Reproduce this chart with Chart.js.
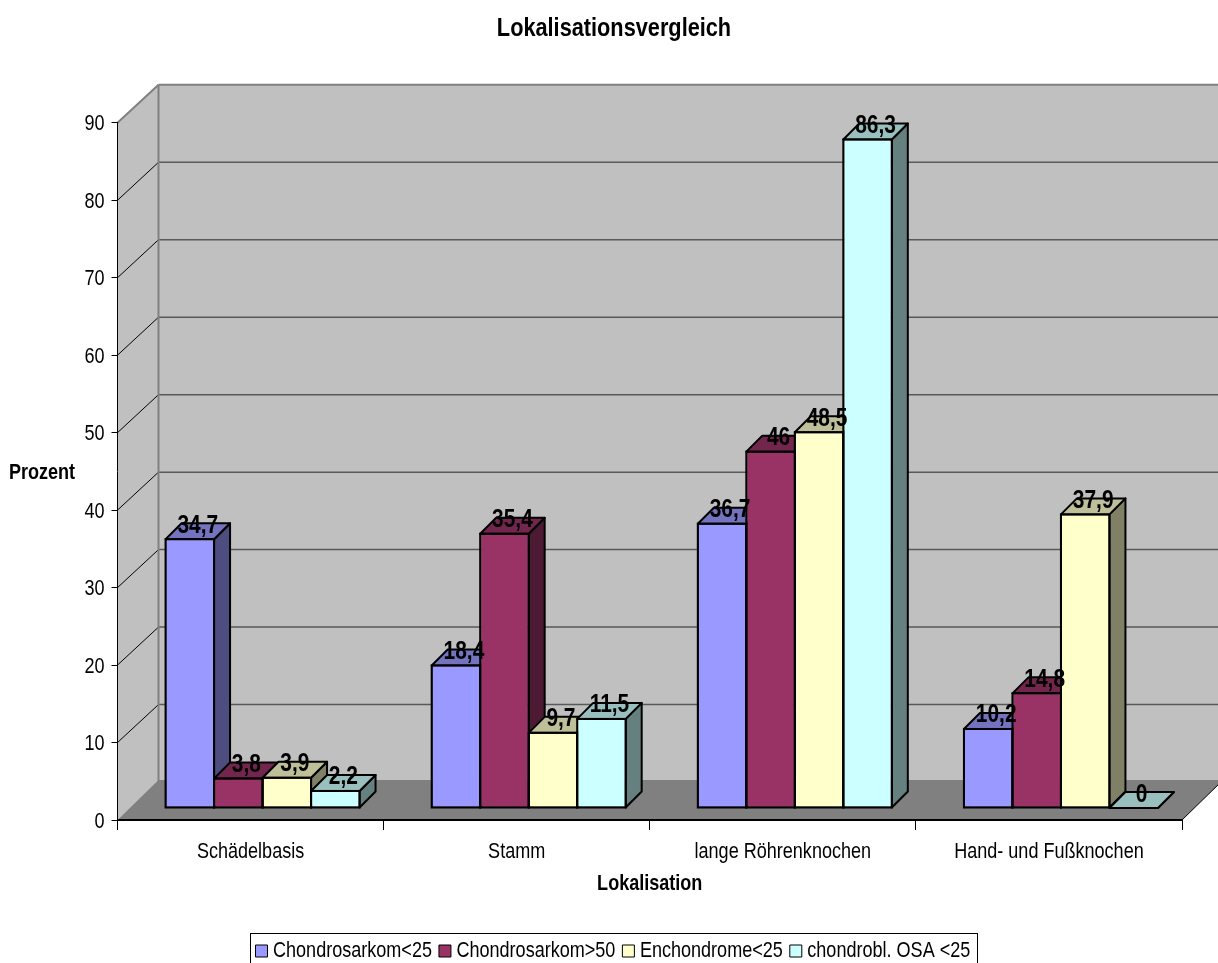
<!DOCTYPE html>
<html>
<head>
<meta charset="utf-8">
<title>Lokalisationsvergleich</title>
<script src="https://cdn.jsdelivr.net/npm/chart.js@4"></script>
<style>
  html, body { margin: 0; padding: 0; background: #fff; overflow: hidden; }
  #wrap { width: 1218px; height: 963px; }
</style>
</head>
<body>
<div id="wrap"><canvas id="chart"></canvas></div>
<script>
const categories = ['Schädelbasis', 'Stamm', 'lange Röhrenknochen', 'Hand- und Fußknochen'];
const seriesNames = ['Chondrosarkom<25', 'Chondrosarkom>50', 'Enchondrome<25', 'chondrobl. OSA <25'];
const chondroUnder25 = [34.7, 18.4, 36.7, 10.2];
const chondroOver50 = [3.8, 35.4, 46, 14.8];
const enchondromeUnder25 = [3.9, 9.7, 48.5, 37.9];
const osaUnder25 = [2.2, 11.5, 86.3, 0];
const seriesData = [chondroUnder25, chondroOver50, enchondromeUnder25, osaUnder25];

const frontColors = ['#9999ff', '#993366', '#ffffcc', '#ccffff'];
const topColors = ['#7373bf', '#73264d', '#bfbf99', '#99bfbf'];
const sideColors = ['#4d4d80', '#4d1a33', '#808066', '#668080'];

const FONT = '"Liberation Sans", Arial, sans-serif';
const TEXT_SQUEEZE = 0.82;          // all text is set condensed
const WALL_DX = 41, WALL_DY = 38;   // depth of the chart box
const BAR_SHIFT = 12;               // bars stand in the middle of the floor
const BAR_DEPTH = 16;

// no condensed font here, so squeeze text at the context level;
// measureText follows so Chart.js still lays everything out correctly
function condenseText(ctx) {
    const fillText = ctx.fillText.bind(ctx);
    const measureText = ctx.measureText.bind(ctx);
    ctx.fillText = (text, x, y, maxWidth) => {
        ctx.save();
        ctx.translate(x, y);
        ctx.scale(TEXT_SQUEEZE, 1);
        if (maxWidth === undefined) fillText(text, 0, 0);
        else fillText(text, 0, 0, maxWidth / TEXT_SQUEEZE);
        ctx.restore();
    };
    ctx.measureText = text => ({ width: measureText(text).width * TEXT_SQUEEZE });
    return ctx;
}

function poly(ctx, pts, fill, stroke, lw) {
    ctx.beginPath();
    pts.forEach((p, i) => i ? ctx.lineTo(p[0], p[1]) : ctx.moveTo(p[0], p[1]));
    ctx.closePath();
    if (fill) { ctx.fillStyle = fill; ctx.fill(); }
    if (stroke) { ctx.strokeStyle = stroke; ctx.lineWidth = lw; ctx.stroke(); }
}

function line(ctx, x1, y1, x2, y2, color, lw) {
    ctx.beginPath();
    ctx.moveTo(x1, y1);
    ctx.lineTo(x2, y2);
    ctx.strokeStyle = color;
    ctx.lineWidth = lw;
    ctx.stroke();
}

const boxPlugin = {
    id: 'box3d',
    afterLayout(chart) {
        chart.titleBlock.left = 46;
        chart.legend.left = 248.5;
        chart.legend.top = 927.5;
    },
    // walls, floor and gridlines behind the bars
    beforeDraw(chart) {
        const ctx = chart.ctx, a = chart.chartArea, y = chart.scales.y;
        ctx.save();
        poly(ctx, [[a.left, a.top], [a.left + WALL_DX, a.top - WALL_DY], [a.left + WALL_DX, a.bottom - WALL_DY], [a.left, a.bottom]], '#c0c0c0');
        poly(ctx, [[a.left + WALL_DX, a.top - WALL_DY], [a.right + WALL_DX, a.top - WALL_DY], [a.right + WALL_DX, a.bottom - WALL_DY], [a.left + WALL_DX, a.bottom - WALL_DY]], '#c0c0c0');
        y.ticks.forEach(t => {
            if (t.value === 0 || t.value === 90) return;
            const py = y.getPixelForValue(t.value);
            line(ctx, a.left, py, a.left + WALL_DX, py - WALL_DY, '#000', 1);
            line(ctx, a.left + WALL_DX, py - WALL_DY, a.right + WALL_DX, py - WALL_DY, '#595959', 1.5);
        });
        line(ctx, a.left + WALL_DX, a.top - WALL_DY, a.left + WALL_DX, a.bottom - WALL_DY, '#808080', 2);
        line(ctx, a.left, a.top, a.left + WALL_DX, a.top - WALL_DY, '#808080', 2);
        line(ctx, a.left + WALL_DX, a.top - WALL_DY, a.right + WALL_DX, a.top - WALL_DY, '#808080', 2);
        poly(ctx, [[a.left, a.bottom], [a.right, a.bottom], [a.right + WALL_DX, a.bottom - WALL_DY - 2], [a.left + WALL_DX, a.bottom - WALL_DY - 2]], '#808080');
        line(ctx, a.right, a.bottom, a.right + WALL_DX, a.bottom - WALL_DY - 2, '#000', 1);
        ctx.restore();
    },
    // side and top faces of every bar, left to right, before any front is drawn
    beforeDatasetsDraw(chart) {
        const ctx = chart.ctx, d = BAR_DEPTH;
        ctx.save();
        ctx.translate(BAR_SHIFT, -BAR_SHIFT);
        ctx.lineJoin = 'round';
        chart.data.datasets.forEach((ds, i) => {
            chart.getDatasetMeta(i).data.forEach(bar => {
                const l = bar.x - bar.width / 2, r = bar.x + bar.width / 2;
                poly(ctx, [[r, bar.y], [r + d, bar.y - d], [r + d, bar.base - d], [r, bar.base]], sideColors[i], '#000', 2);
                poly(ctx, [[l, bar.y], [l + d, bar.y - d], [r + d, bar.y - d], [r, bar.y]], topColors[i], '#000', 2);
            });
        });
        ctx.restore();
    },
    beforeDatasetDraw(chart) {
        chart.ctx.save();
        chart.ctx.translate(BAR_SHIFT, -BAR_SHIFT);
    },
    afterDatasetDraw(chart) {
        chart.ctx.restore();
    },
    afterDraw(chart) {
        const ctx = chart.ctx;
        ctx.save();
        // outline of the bar fronts, centred on their edges so neighbours share a line
        ctx.strokeStyle = '#000';
        ctx.lineWidth = 2;
        chart.data.datasets.forEach((ds, i) => {
            chart.getDatasetMeta(i).data.forEach(bar => {
                if (bar.base - bar.y < 1) return;
                ctx.strokeRect(bar.x - bar.width / 2 + BAR_SHIFT, bar.y - BAR_SHIFT, bar.width, bar.base - bar.y);
            });
        });
        // value labels above the bars
        ctx.font = 'bold 25.5px ' + FONT;
        ctx.fillStyle = '#000';
        ctx.textAlign = 'center';
        ctx.textBaseline = 'alphabetic';
        chart.data.datasets.forEach((ds, i) => {
            chart.getDatasetMeta(i).data.forEach((bar, j) => {
                const text = String(ds.data[j]).replace('.', ',');
                ctx.fillText(text, bar.x + BAR_SHIFT + 8, bar.y - BAR_SHIFT - 6.5);
            });
        });
        // horizontal y axis caption
        ctx.font = 'bold 22px ' + FONT;
        ctx.textBaseline = 'middle';
        ctx.fillText('Prozent', 42, 473);
        // legend frame, runs off the bottom of the page
        ctx.lineWidth = 1;
        ctx.strokeRect(250.5, 933.5, 727, 40);
        ctx.restore();
    }
};

new Chart(condenseText(document.getElementById('chart').getContext('2d')), {
    type: 'bar',
    data: {
        labels: categories,
        datasets: seriesData.map((values, i) => ({
            label: seriesNames[i],
            data: values,
            backgroundColor: frontColors[i],
            borderColor: '#000',
            borderWidth: 1,
            borderSkipped: false,
            clip: false
        }))
    },
    options: {
        responsive: true,
        maintainAspectRatio: false,
        animation: false,
        color: '#000',
        categoryPercentage: 0.729,
        barPercentage: 1,
        layout: { padding: { left: 0, right: 36, top: 0, bottom: 0 } },
        plugins: {
            title: {
                display: true,
                text: 'Lokalisationsvergleich',
                color: '#000',
                font: { family: FONT, size: 26.5, weight: 'bold' },
                padding: { top: 12.5, bottom: 78.5 }
            },
            legend: {
                position: 'bottom',
                align: 'start',
                labels: {
                    color: '#000',
                    font: { family: FONT, size: 22 },
                    usePointStyle: true,
                    pointStyle: 'rect',
                    boxWidth: 1,
                    boxHeight: 12,
                    padding: 12.5
                }
            },
            tooltip: { enabled: false }
        },
        scales: {
            x: {
                afterFit(s) { s.height = 143 - s.chart.legend.height; },
                grid: { drawOnChartArea: false, color: '#000', tickLength: 10, lineWidth: 1 },
                border: { color: '#000', width: 2 },
                ticks: { color: '#000', font: { family: FONT, size: 22 }, padding: 9, maxRotation: 0 },
                title: {
                    display: true,
                    text: 'Lokalisation',
                    color: '#000',
                    font: { family: FONT, size: 22, weight: 'bold' },
                    padding: { top: 4, bottom: 21.5 }
                }
            },
            y: {
                min: 0,
                max: 90,
                afterFit(s) { s.width = 117.5; },
                grid: { drawOnChartArea: false, color: '#000', tickLength: 6 },
                border: { color: '#000', width: 1 },
                ticks: { stepSize: 10, color: '#000', font: { family: FONT, size: 22 }, padding: 7, labelOffset: 1.5 }
            }
        }
    },
    plugins: [boxPlugin]
});
</script>
</body>
</html>
